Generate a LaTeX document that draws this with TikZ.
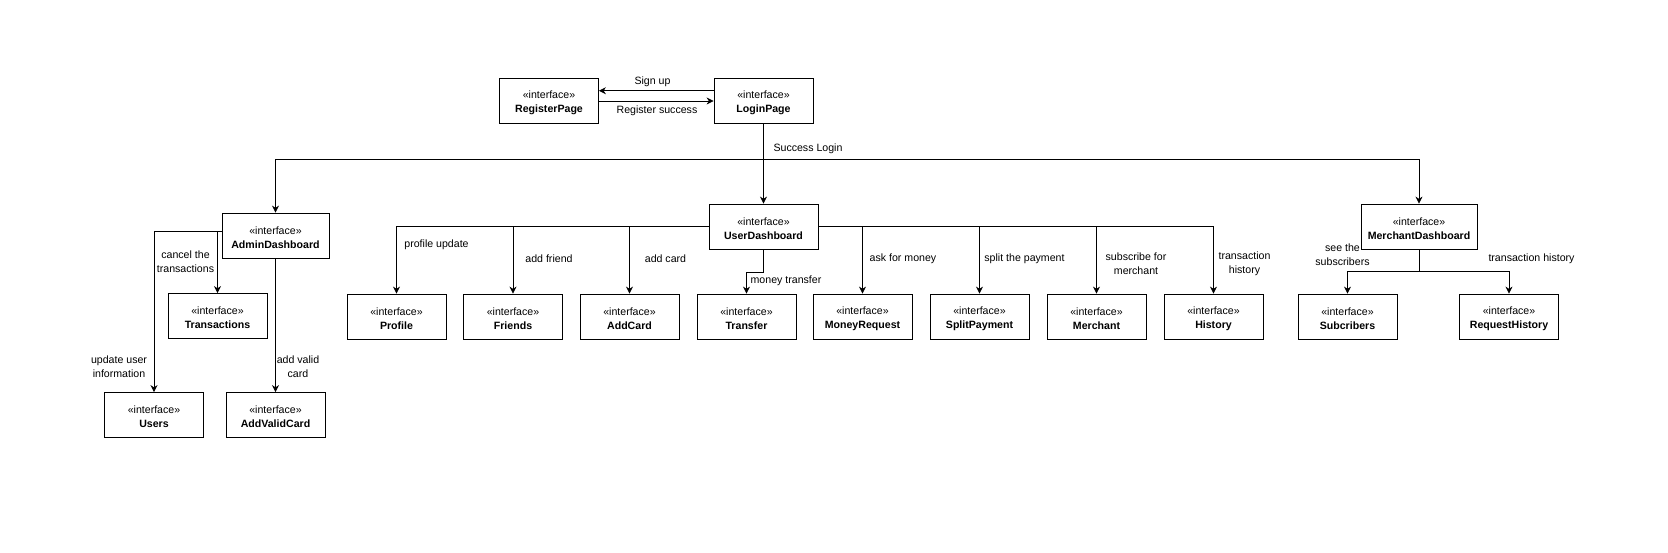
\documentclass[tikz,border=0pt]{standalone}
\usepackage{fontspec}
\setmainfont{Liberation Sans}
\usepackage{tikz}
\usetikzlibrary{arrows.meta}
\usetikzlibrary{positioning}
\tikzset{
    iface/.style={draw=black, line width=0.8pt, rectangle, minimum width=99pt, minimum height=45pt,
        align=center, inner sep=0pt, font=\fontsize{10.6}{14}\selectfont},
    flow/.style={draw=black, line width=0.8pt, -{Stealth[length=7pt,width=7pt]}},
    wire/.style={draw=black, line width=0.8pt},
    note/.style={align=center, inner sep=0pt, font=\fontsize{10.6}{14}\selectfont}
}
\newcommand{\ifacetext}[1]{\raisebox{-2pt}[\height][\depth]{«interface»}\\\raisebox{-2pt}[\height][\depth]{\textbf{#1}}}

\begin{document}
\begin{tikzpicture}[x=1pt,y=-1pt]
	\fill[white] (0,0) rectangle (1668,552);
	\node[iface] (register) at (549,101) {\ifacetext{RegisterPage}};
	\node[iface] (login) at (763.5,101) {\ifacetext{LoginPage}};
	\node[iface, minimum width=107pt] (admin) at (275.5,235.5) {\ifacetext{AdminDashboard}};
	\node[iface, minimum width=109pt] (userdash) at (763.5,226.5) {\ifacetext{UserDashboard}};
	\node[iface, minimum width=116pt] (merchdash) at (1419,226.5) {\ifacetext{MerchantDashboard}};
	\node[iface] (transactions) at (217.5,316) {\ifacetext{Transactions}};
	\node[iface] (users) at (154,415) {\ifacetext{Users}};
	\node[iface] (addvalid) at (275.5,415) {\ifacetext{AddValidCard}};
	\node[iface] (profile) at (396.5,316.5) {\ifacetext{Profile}};
	\node[iface] (friends) at (513,316.5) {\ifacetext{Friends}};
	\node[iface] (addcard) at (629.5,316.5) {\ifacetext{AddCard}};
	\node[iface] (transfer) at (746.5,316.5) {\ifacetext{Transfer}};
	\node[iface] (moneyreq) at (862.5,316.5) {\ifacetext{MoneyRequest}};
	\node[iface] (split) at (979.5,316.5) {\ifacetext{SplitPayment}};
	\node[iface] (merchant) at (1096.5,316.5) {\ifacetext{Merchant}};
	\node[iface] (history) at (1213.5,316.5) {\ifacetext{History}};
	\node[iface] (subscribers) at (1347.5,316.5) {\ifacetext{Subcribers}};
	\node[iface] (reqhistory) at (1509,316.5) {\ifacetext{RequestHistory}};

	\draw[flow] ([yshift=10.3pt]login.west) -- ([yshift=10.3pt]register.east);
	\draw[flow] (register) -- (login);
	\coordinate (loginhub) at (763.5,159);
	\draw[wire] (login) -- (loginhub);
	\draw[flow] (loginhub) -| (admin);
	\draw[flow] (loginhub) -- (userdash);
	\draw[flow] (loginhub) -| (merchdash);

	\draw[flow] ([yshift=4.5pt]admin.west) -| (users);
	\draw[flow] ([yshift=4.5pt]admin.west) -| (transactions);
	\draw[flow] (admin) -- (addvalid);

	\draw[flow] (userdash.west) -| (profile);
	\draw[flow] (userdash.west) -| (friends);
	\draw[flow] (userdash.west) -| (addcard);
	\draw[flow] (userdash.south) -- ++(0,23) -| (transfer);
	\draw[flow] (userdash.east) -| (moneyreq);
	\draw[flow] (userdash.east) -| (split);
	\draw[flow] (userdash.east) -| (merchant);
	\draw[flow] (userdash.east) -| (history);

	\coordinate (merchhub) at (1419,271);
	\draw[wire] (merchdash) -- (merchhub);
	\draw[flow] (merchhub) -| (subscribers);
	\draw[flow] (merchhub) -| (reqhistory);

	\node[note] (lsignup) at (652.5,82) {Sign up};
	\node[note] (lregok) at (657,110.5) {Register success};
	\node[note] (llogin) at (808,148.5) {Success Login};
	\node[note] (lcancel) at (185.5,261.5) {cancel the\\transactions};
	\node[note] (lupdate) at (119,367) {update user\\information};
	\node[note] (lvalid) at (298,366.5) {add valid\\card};
	\node[note] (lprofile) at (436.5,244.5) {profile update};
	\node[note] (lfriend) at (549,258.5) {add friend};
	\node[note] (lcard) at (665.5,258.5) {add card};
	\node[note] (ltransfer) at (786,280.5) {money transfer};
	\node[note] (lask) at (903,258.5) {ask for money};
	\node[note] (lsplit) at (1024.5,258.5) {split the payment};
	\node[note] (lsubscribe) at (1136,263.5) {subscribe for\\merchant};
	\node[note] (lhistory) at (1244.5,263.5) {transaction\\history};
	\node[note] (lsee) at (1342.5,254.5) {see the\\subscribers};
	\node[note] (lreqhist) at (1531.5,258.5) {transaction history};
\end{tikzpicture}
\end{document}
